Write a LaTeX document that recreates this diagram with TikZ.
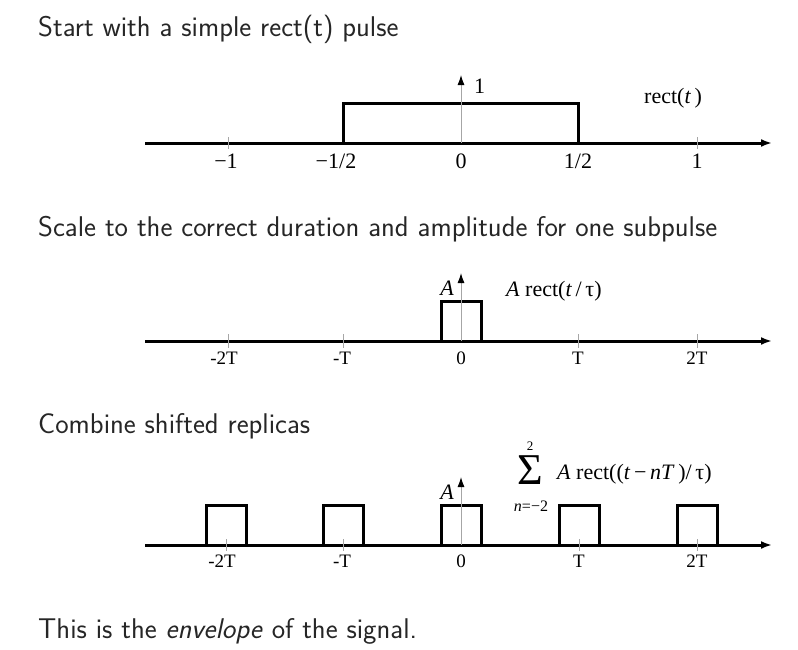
\documentclass[tikz,border=0pt]{standalone}
\usepackage{fontspec}
\setmainfont{Liberation Serif}
\usetikzlibrary{arrows.meta}
\begin{document}
\begin{tikzpicture}[x=1pt,y=-1pt,
  heading/.style={anchor=base west, inner sep=0, font=\sffamily\fontsize{28.5}{32}\selectfont, text=black!85},
  haxis/.style={line width=3pt, -{Latex[length=11pt,width=8pt]}},
  signal/.style={line width=3pt, line join=miter},
  yaxis/.style={gray!70, line width=1pt, -{Latex[length=10pt,width=7pt,color=black]}},
  tickmark/.style={gray!70, line width=1pt},
  ticklbl/.style={anchor=base, inner sep=0, font=\fontsize{22}{25}\selectfont},
  tlbl/.style={anchor=base, inner sep=0, font=\fontsize{19}{22}\selectfont},
  lbl/.style={inner sep=0, font=\fontsize{22}{25}\selectfont},
]
\useasboundingbox (0,0) rectangle (798,649);
\fill[white] (0,0) rectangle (798,649);

% headings
\node[heading] (h1) at (38,36) {Start with a simple rect(t) pulse};
\node[heading] (h2) at (38,236) {Scale to the correct duration and amplitude for one subpulse};
\node[heading] (h3) at (38,433) {Combine shifted replicas};
\node[heading] (h4) at (38,638) {This is the \textit{envelope} of the signal.};

% ---------- plot 1 ----------
\draw[haxis] (145,143) -- (772,143);
\draw[signal] (343,143) -- (343,103) -- (578,103) -- (578,143);
\draw[yaxis] (461,143) -- (461,75);
\foreach \x in {228,697} \draw[tickmark] (\x,137) -- (\x,149);
\node[ticklbl] (p1a) at (226,168) {−1};
\node[ticklbl] (p1b) at (336,168) {−1/2};
\node[ticklbl] (p1c) at (461,168) {0};
\node[ticklbl] (p1d) at (578,168) {1/2};
\node[ticklbl] (p1e) at (697,168) {1};
\node[lbl, anchor=base west] (one) at (474,93) {1};
\node[lbl, anchor=base west] (rect1) at (644,103) {rect(\textit{t}\,)};

% ---------- plot 2 ----------
\draw[haxis] (145,341) -- (772,341);
\draw[signal] (441,341) -- (441,301) -- (481,301) -- (481,341);
\draw[yaxis] (461,341) -- (461,273);
\foreach \x in {228,343,578,697} \draw[tickmark] (\x,334) -- (\x,348);
\node[tlbl] (p2a) at (224,364) {-2T};
\node[tlbl] (p2b) at (342,364) {-T};
\node[tlbl] (p2c) at (461,364) {0};
\node[tlbl] (p2d) at (578,364) {T};
\node[tlbl] (p2e) at (697,364) {2T};
\node[lbl, anchor=base east] (A2) at (454,295) {\textit{A}};
\node[lbl, anchor=base west] (rect2) at (506,296) {\textit{A} rect(\textit{t}\,/\,τ)};

% ---------- plot 3 ----------
\draw[haxis] (145,545) -- (772,545);
\foreach \c in {226,343,461,579,697}
  \draw[signal] (\c-20,545) -- (\c-20,505) -- (\c+20,505) -- (\c+20,545);
\draw[yaxis] (461,545) -- (461,477);
\foreach \x in {226,343,579,697} \draw[tickmark] (\x,539) -- (\x,551);
\node[tlbl] (p3a) at (222,567) {-2T};
\node[tlbl] (p3b) at (342,567) {-T};
\node[tlbl] (p3c) at (461,567) {0};
\node[tlbl] (p3d) at (579,567) {T};
\node[tlbl] (p3e) at (697,567) {2T};
\node[lbl, anchor=base east] (A3) at (454,499) {\textit{A}};
\node[inner sep=0, anchor=base, font=\fontsize{44}{46}\selectfont] (sig) at (530,484) {Σ};
\node[inner sep=0, anchor=base, font=\fontsize{13}{15}\selectfont] (up) at (530,450) {2};
\node[inner sep=0, anchor=base, font=\fontsize{16}{18}\selectfont] (lo) at (531,511) {\textit{n}=−2};
\node[lbl, anchor=base west] (rect3) at (557,479) {\textit{A} rect((\textit{t}\,−\,\textit{nT}\,)/\,τ)};
\end{tikzpicture}
\end{document}
